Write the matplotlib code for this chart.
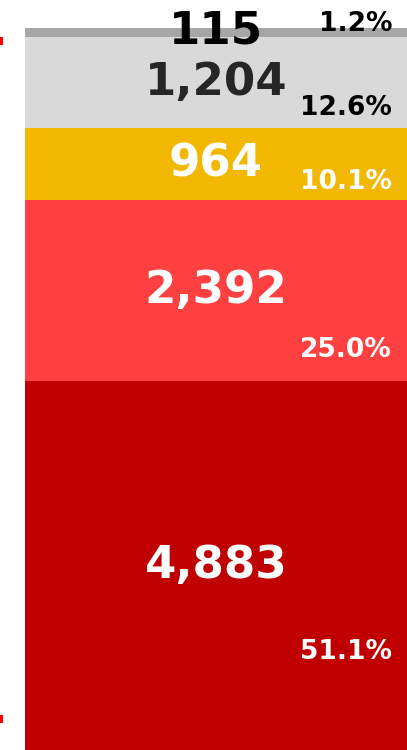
import matplotlib
matplotlib.use("Agg")
import matplotlib.pyplot as plt
from matplotlib.patches import Rectangle

plt.rcParams['font.family'] = ['DejaVu Sans']

# Data (bottom to top)
categories = ["Seg A", "Seg B", "Seg C", "Seg D", "Seg E"]
values = [4883, 2392, 964, 1204, 115]
pct_labels = ["51.1%", "25.0%", "10.1%", "12.6%", "1.2%"]
colors = ["#C00000", "#FF4040", "#F2B800", "#D9D9D9", "#A6A6A6"]
num_colors = ["white", "white", "white", "#262626", "black"]
pct_colors = ["white", "white", "white", "black", "black"]
# vertical position of percentage label as fraction of segment (from bottom)
pct_frac = [0.265, 0.17, 0.26, 0.215, 0.0]

W, H = 407, 750
fig = plt.figure(figsize=(W / 100, H / 100), dpi=100)
top_px = 28
ax = fig.add_axes([25 / W, 0, (W - 25) / W, (H - top_px) / H])
total = sum(values)
ax.set_xlim(-0.5, 0.5)
ax.set_ylim(0, total)
ax.axis("off")

bottom = 0
for i, v in enumerate(values):
    ax.bar(0, v, width=1.0, bottom=bottom, color=colors[i], linewidth=0)
    center = bottom + v / 2
    if i == len(values) - 1:
        ny = bottom + v * 0.6
        py = bottom + v * 1.5
    else:
        ny = center
        py = bottom + v * pct_frac[i]
    ax.text(-0.0, ny, f"{v:,}", ha="center", va="center", fontsize=32.5,
            fontweight="bold", color=num_colors[i], clip_on=False)
    ax.text(0.461, py, pct_labels[i], ha="right", va="center", fontsize=19,
            fontweight="bold", color=pct_colors[i], clip_on=False)
    bottom += v

# small red marks at left edge
for y0 in (37, 715):
    fig.patches.append(Rectangle((0, (H - y0 - 8) / H), 3 / W, 8 / H,
                                 transform=fig.transFigure, color="#FF0000", linewidth=0))

fig.savefig("out.png", dpi=100)
